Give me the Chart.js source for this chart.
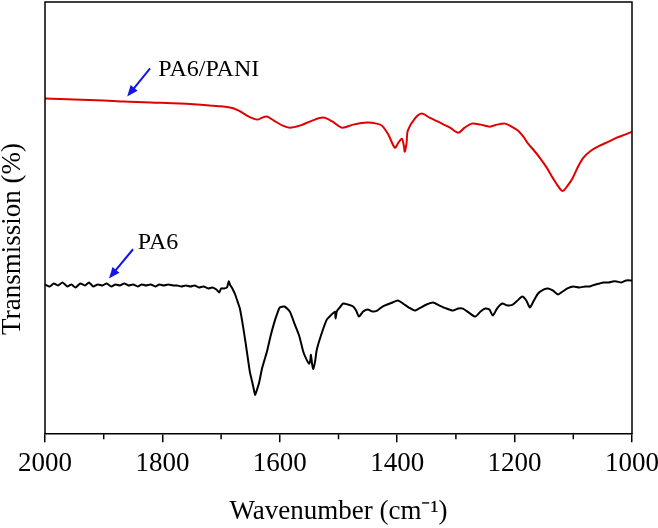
<!DOCTYPE html>
<html>
<head>
<meta charset="utf-8">
<script src="https://cdn.jsdelivr.net/npm/chart.js@4/dist/chart.umd.min.js"></script>
<style>
  body { margin: 0; background: #fff; }
  #wrap { width: 658px; height: 528px; }
</style>
</head>
<body>
<div id="wrap"><canvas id="ftir"></canvas></div>
<script>
// PA6/PANI spectrum (wavenumber, relative transmission)
const panWn  = [2000,1950,1900,1867,1820,1770,1720,1685,1670,1656,1645,1637,1630,1622,1610,1595,1583,1566,1545,1526,1510,1494,1475,1451,1435,1426,1415,1404,1398,1392,1389,1387,1384,1382,1370,1358,1345,1327,1310,1296,1285,1273,1258,1242,1230,1216,1205,1194,1185,1177,1168,1157,1145,1135,1125,1118,1110,1101,1092,1083,1070,1055,1040,1026,1012,1000];
const panVal = [334,333,332,331,330,329,327,325,322,317,314,313,315,316,312,307,305,307,312,315,311,305,308,310,309,307,298,285,290,294,288,281,290,302,314,319,315,310,305,300,305,309,308,306,308,309,306,302,296,289,283,275,265,255,246,242,247,255,266,275,282,287,291,295,298,301];

// PA6 spectrum
const pa6Wn  = [2000,1992,1985,1978,1970,1962,1955,1948,1940,1932,1925,1918,1910,1902,1895,1887,1880,1872,1865,1858,1850,1842,1835,1828,1820,1812,1805,1798,1790,1782,1775,1768,1760,1752,1745,1738,1730,1722,1715,1708,1703,1700,1695,1690,1687,1685,1680,1676,1672,1668,1662,1656,1651,1647,1644,1642,1639,1635,1630,1622,1616,1610,1605,1600,1592,1583,1575,1567,1560,1555,1550,1548,1547,1545,1543,1540,1537,1530,1520,1512,1506,1505,1503,1498,1492,1484,1475,1470,1465,1458,1450,1442,1434,1425,1417,1408,1399,1390,1380,1370,1360,1350,1339,1328,1316,1305,1296,1288,1278,1267,1258,1250,1243,1237,1230,1221,1212,1203,1195,1187,1180,1174,1168,1160,1150,1143,1135,1126,1118,1110,1100,1090,1080,1072,1062,1055,1049,1040,1033,1026,1018,1010,1000];
const pa6Val = [149,147,150,148,151,147,149,146,150,148,151,147,149,148,150,147,149,148,150,148,149,147,149,148,149,147,149,148,149,148,148,147,148,147,148,146,147,145,146,144,141,145,145,146,152,149,144,139,132,125,105,82,62,52,44,39,44,52,66,82,97,110,119,126,127,122,110,98,82,75,70,74,79,70,65,72,84,98,114,119,122,115,122,126,130,129,127,123,117,122,124,122,123,127,129,131,133,130,126,123,126,129,131,128,125,123,125,125,121,117,122,125,124,118,125,130,128,129,133,137,133,126,132,140,144,145,143,139,142,145,147,146,147,147,149,150,151,151,152,152,151,153,153];

const xTicks = [2000,1800,1600,1400,1200,1000];
const minorTicks = [1900,1700,1500,1300,1100];

// arrow labels: [text, tailWn, tailVal, headWn, headVal, textWn, textVal]
const labels = [
  ['PA6/PANI', 1821, 364, 1860, 336, 1807, 363],
  ['PA6',      1850, 184, 1891, 155, 1842, 191]
];

const serif = "'Liberation Serif', 'Times New Roman', serif";

const extras = {
  id: 'extras',
  afterDraw(chart) {
    const ctx = chart.ctx;
    const a = chart.chartArea;
    const xs = chart.scales.x, ys = chart.scales.y;
    ctx.save();
    ctx.strokeStyle = '#000';
    ctx.lineWidth = 1.5;
    ctx.beginPath();
    ctx.moveTo(a.left, a.bottom);
    ctx.lineTo(a.left, a.top);
    ctx.lineTo(a.right, a.top);
    ctx.lineTo(a.right, a.bottom);
    ctx.stroke();

    // minor ticks
    ctx.beginPath();
    minorTicks.forEach(v => {
      const px = xs.getPixelForValue(v);
      ctx.moveTo(px, a.bottom);
      ctx.lineTo(px, a.bottom + 5);
    });
    ctx.stroke();

    // y title
    ctx.fillStyle = '#000';
    ctx.font = '27px ' + serif;
    ctx.textAlign = 'center';
    ctx.textBaseline = 'middle';
    ctx.translate(13, 239);
    ctx.rotate(-Math.PI / 2);
    ctx.fillText('Transmission (%)', 0, 0);
    ctx.restore();

    // arrows + labels
    ctx.save();
    labels.forEach(([txt, tw, tv, hw, hv, lw, lv]) => {
      const x1 = xs.getPixelForValue(tw), y1 = ys.getPixelForValue(tv);
      const x2 = xs.getPixelForValue(hw), y2 = ys.getPixelForValue(hv);
      const ang = Math.atan2(y2 - y1, x2 - x1);
      ctx.strokeStyle = '#1515e6';
      ctx.fillStyle = '#1515e6';
      ctx.lineWidth = 2;
      ctx.beginPath();
      ctx.moveTo(x1, y1);
      ctx.lineTo(x2 - 8 * Math.cos(ang), y2 - 8 * Math.sin(ang));
      ctx.stroke();
      ctx.beginPath();
      ctx.moveTo(x2, y2);
      ctx.lineTo(x2 - 11 * Math.cos(ang) + 4.5 * Math.sin(ang), y2 - 11 * Math.sin(ang) - 4.5 * Math.cos(ang));
      ctx.lineTo(x2 - 11 * Math.cos(ang) - 4.5 * Math.sin(ang), y2 - 11 * Math.sin(ang) + 4.5 * Math.cos(ang));
      ctx.closePath();
      ctx.fill();

      ctx.fillStyle = '#000';
      ctx.font = '24px ' + serif;
      ctx.textAlign = 'left';
      ctx.textBaseline = 'middle';
      ctx.fillText(txt, xs.getPixelForValue(lw), ys.getPixelForValue(lv));
    });
    ctx.restore();
  }
};

new Chart(document.getElementById('ftir'), {
  type: 'line',
  data: {
    datasets: [
      {
        label: 'PA6/PANI',
        data: panWn.map((w, i) => ({ x: w, y: panVal[i] })),
        borderColor: '#e00000',
        borderWidth: 2,
        pointRadius: 0,
        tension: 0.3
      },
      {
        label: 'PA6',
        data: pa6Wn.map((w, i) => ({ x: w, y: pa6Val[i] })),
        borderColor: '#000',
        borderWidth: 2,
        pointRadius: 0,
        tension: 0.2
      }
    ]
  },
  options: {
    responsive: true,
    maintainAspectRatio: false,
    animation: false,
    layout: { padding: { left: 45, right: 26, top: 2, bottom: 0 } },
    plugins: {
      legend: { display: false },
      tooltip: { enabled: false }
    },
    scales: {
      x: {
        type: 'linear',
        reverse: true,
        min: 1000,
        max: 2000,
        afterBuildTicks: s => { s.ticks = xTicks.map(v => ({ value: v })); },
        afterFit: s => { s.paddingLeft = 0; s.paddingRight = 0; },
        ticks: {
          color: '#000',
          padding: 6,
          maxRotation: 0,
          callback: v => String(v),
          font: { family: serif, size: 27 }
        },
        grid: {
          drawOnChartArea: false,
          drawTicks: true,
          tickLength: 8,
          color: '#000',
          lineWidth: 1.5
        },
        border: { display: true, color: '#000', width: 1.5 },
        title: {
          display: true,
          text: 'Wavenumber (cm\u207B\u00B9)',
          color: '#000',
          font: { family: serif, size: 27 },
          padding: { top: 9, bottom: 0 }
        }
      },
      y: {
        display: false,
        min: 0,
        max: 430
      }
    }
  },
  plugins: [extras]
});
</script>
</body>
</html>
